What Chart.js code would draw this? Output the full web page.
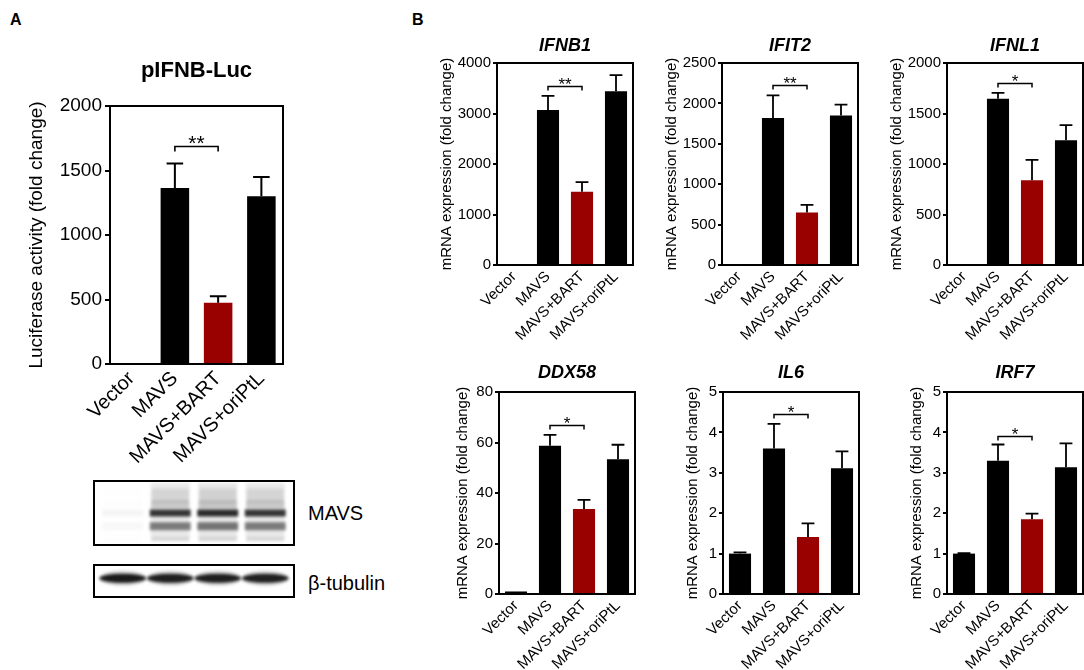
<!DOCTYPE html>
<html><head><meta charset="utf-8">
<script src="https://cdn.jsdelivr.net/npm/chart.js@4.4.1/dist/chart.umd.min.js"></script>
<style>
html,body{margin:0;padding:0;background:#fff;width:1084px;height:670px;overflow:hidden;}
body{position:relative;font-family:"Liberation Sans",Arial,Helvetica,sans-serif;color:#000;}
.plabel{position:absolute;font-weight:bold;font-size:16px;line-height:16px;}
.blotlbl{position:absolute;font-size:20px;line-height:20px;}
</style></head><body>
<div class="plabel" style="left:10px;top:12px;">A</div>
<div class="plabel" style="left:412px;top:12px;">B</div>
<div class="blotlbl" style="left:308px;top:503px;">MAVS</div>
<div class="blotlbl" style="left:308px;top:573px;">β-tubulin</div>
<script>
// ---------------- DATA ----------------
const categories = ["Vector", "MAVS", "MAVS+BART", "MAVS+oriPtL"];

const lucMean   = [1, 1365, 475, 1300];
const lucSem    = [0, 190, 50, 150];

const ifnb1Mean = [1, 3070, 1450, 3440];
const ifnb1Sem  = [0, 280, 190, 320];

const ifit2Mean = [1, 1820, 650, 1850];
const ifit2Sem  = [0, 280, 95, 135];

const ifnl1Mean = [1, 1645, 840, 1235];
const ifnl1Sem  = [0, 60, 200, 150];

const ddx58Mean = [1, 58.7, 33.7, 53.4];
const ddx58Sem  = [0, 4.3, 3.6, 5.7];

const il6Mean   = [1.0, 3.6, 1.41, 3.11];
const il6Sem    = [0.03, 0.61, 0.34, 0.42];

const irf7Mean  = [1.0, 3.30, 1.85, 3.14];
const irf7Sem   = [0.01, 0.40, 0.14, 0.59];

// significance brackets (MAVS vs MAVS+BART)
const sigLabels  = ["**", "**", "**", "*", "*", "*", "*"];
const sigHeights = [1690, 3550, 2230, 1800, 67, 4.46, 3.9];

// y-axis ranges / tick steps
const yMaxes = [2000, 4000, 2500, 2000, 80, 5, 5];
const ySteps = [500, 1000, 500, 500, 20, 1, 1];

// western blot relative band intensities per lane
const blotMAVS    = [0.05, 0.92, 0.97, 0.92];
const blotTubulin = [1.0, 0.97, 0.97, 0.97];

// ---------------- STYLE ----------------
const FONT = '"Liberation Sans", Arial, Helvetica, sans-serif';
Chart.defaults.font.family = FONT;
Chart.defaults.color = '#000';
const barColors = ['#000000', '#000000', '#990000', '#000000'];

function addCanvas(left, top, w, h) {
  const c = document.createElement('canvas');
  c.width = w; c.height = h;
  c.style.cssText = `position:absolute;left:${left}px;top:${top}px;width:${w}px;height:${h}px;`;
  document.body.appendChild(c);
  return c;
}

const errorBarPlugin = {
  id: 'errbars',
  afterDatasetsDraw(chart, args, opts) {
    if (!opts.sem) return;
    const ctx = chart.ctx, meta = chart.getDatasetMeta(0), y = chart.scales.y;
    const vals = chart.data.datasets[0].data;
    ctx.save();
    ctx.strokeStyle = '#000'; ctx.lineWidth = opts.lineWidth; ctx.lineCap = 'butt';
    meta.data.forEach((bar, i) => {
      const e = opts.sem[i];
      if (!e) return;
      const base = y.getPixelForValue(vals[i]);
      const top = y.getPixelForValue(vals[i] + e);
      const half = bar.width * opts.capRatio;
      ctx.beginPath();
      ctx.moveTo(bar.x, base); ctx.lineTo(bar.x, top);
      ctx.moveTo(bar.x - half, top); ctx.lineTo(bar.x + half, top);
      ctx.stroke();
    });
    ctx.restore();
  }
};

const sigPlugin = {
  id: 'sig',
  afterDatasetsDraw(chart, args, opts) {
    if (!opts.label) return;
    const ctx = chart.ctx, meta = chart.getDatasetMeta(0), y = chart.scales.y;
    const x1 = meta.data[opts.from].x, x2 = meta.data[opts.to].x;
    const yy = Math.round(y.getPixelForValue(opts.value)) + 0.5;
    ctx.save();
    ctx.strokeStyle = '#000'; ctx.lineWidth = opts.lineWidth;
    ctx.beginPath();
    ctx.moveTo(x1, yy + opts.tick); ctx.lineTo(x1, yy); ctx.lineTo(x2, yy); ctx.lineTo(x2, yy + opts.tick);
    ctx.stroke();
    ctx.fillStyle = '#000';
    ctx.font = `${opts.fontSize}px ${FONT}`;
    ctx.textAlign = 'center'; ctx.textBaseline = 'alphabetic';
    ctx.fillText(opts.label, (x1 + x2) / 2, yy + opts.dy);
    ctx.restore();
  }
};

const framePlugin = {
  id: 'frame',
  afterDraw(chart, args, opts) {
    if (!opts.lineWidth) return;
    const ctx = chart.ctx, a = chart.chartArea;
    ctx.save();
    ctx.strokeStyle = '#000'; ctx.lineWidth = opts.lineWidth;
    ctx.beginPath();
    ctx.moveTo(a.left - opts.lineWidth / 2, a.top);
    ctx.lineTo(a.right, a.top);
    ctx.lineTo(a.right, a.bottom);
    ctx.stroke();
    ctx.restore();
  }
};

function makeBarChart(s) {
  const c = addCanvas(s.left, s.top, s.w, s.h);
  return new Chart(c, {
    type: 'bar',
    data: {
      labels: categories,
      datasets: [{
        data: s.mean,
        backgroundColor: barColors,
        borderWidth: 0,
        barPercentage: s.barPct,
        categoryPercentage: 1
      }]
    },
    options: {
      responsive: false,
      animation: false,
      events: [],
      layout: { padding: { top: 0, left: 0, right: s.padRight, bottom: 0 } },
      plugins: {
        legend: { display: false },
        tooltip: { enabled: false },
        title: {
          display: true, text: s.title, fullSize: false, color: '#000',
          font: { family: FONT, size: s.titleSize, weight: 'bold', style: s.italic ? 'italic' : 'normal' },
          padding: { top: s.tTop, bottom: s.tBot }
        },
        errbars: { sem: s.sem, lineWidth: s.ebLw, capRatio: 0.29 },
        sig: { from: 1, to: 2, value: s.sigValue, label: s.sigLabel, tick: s.sigTick, lineWidth: s.sigLw, fontSize: s.sigFont, dy: s.sigDy },
        frame: { lineWidth: s.lw }
      },
      scales: {
        x: {
          grid: { display: false, drawTicks: false },
          border: { display: true, color: '#000', width: s.lw },
          ticks: { color: '#000', font: { family: FONT, size: s.xFont }, minRotation: 45, maxRotation: 45, autoSkip: false, padding: 3 },
          afterFit: (sc) => { sc.height = s.xH; }
        },
        y: {
          min: 0, max: s.ymax,
          ticks: { stepSize: s.step, color: '#000', font: { family: FONT, size: s.yFont }, padding: s.tickPad, callback: (v) => String(v) },
          grid: { drawOnChartArea: false, drawTicks: true, tickLength: s.tickLen, color: '#000', lineWidth: s.lw },
          border: { display: true, color: '#000', width: s.lw },
          title: { display: true, text: s.ytitle, color: '#000', font: { family: FONT, size: s.ytFont }, padding: { top: s.ytPad, bottom: 0 } },
          afterFit: (sc) => { sc.width = s.yW; }
        }
      }
    },
    plugins: [errorBarPlugin, sigPlugin, framePlugin]
  });
}

// ---------- Panel A ----------
makeBarChart({
  left: 0, top: 45, w: 303, h: 429, padRight: 20, yW: 110, xH: 110,
  mean: lucMean, sem: lucSem, ymax: yMaxes[0], step: ySteps[0],
  title: 'pIFNB-Luc', titleSize: 22, italic: false, tTop: 12.8, tBot: 21.8,
  ytitle: 'Luciferase activity (fold change)', ytFont: 19, ytPad: 25.6,
  yFont: 19, xFont: 20, tickLen: 5, tickPad: 3, lw: 2, ebLw: 2, barPct: 0.66,
  sigValue: sigHeights[0], sigLabel: sigLabels[0], sigTick: 5, sigLw: 1.6, sigFont: 21, sigDy: 3
});

// ---------- Panel B ----------
const bTitles = ['IFNB1', 'IFIT2', 'IFNL1', 'DDX58', 'IL6', 'IRF7'];
const bMeans = [ifnb1Mean, ifit2Mean, ifnl1Mean, ddx58Mean, il6Mean, irf7Mean];
const bSems = [ifnb1Sem, ifit2Sem, ifnl1Sem, ddx58Sem, il6Sem, irf7Sem];
const bPlotLeft = [497, 722, 947, 499, 723, 947];
const bYtPad = [31, 31, 31, 45, 51, 51];
for (let k = 0; k < 6; k++) {
  const top = k < 3;
  const yW = 90;
  makeBarChart({
    left: bPlotLeft[k] - yW, top: top ? 20 : 350, w: yW + 136 + 8, h: top ? 325 : 320,
    padRight: 8, yW: yW, xH: top ? 80 : 76,
    mean: bMeans[k], sem: bSems[k], ymax: yMaxes[k + 1], step: ySteps[k + 1],
    title: bTitles[k], titleSize: 18, italic: true,
    tTop: top ? 14.9 : 12.5, tBot: top ? 6.5 : 7.9,
    ytitle: 'mRNA expression (fold change)', ytFont: 15, ytPad: bYtPad[k],
    yFont: 15, xFont: 15, tickLen: 4, tickPad: 2, lw: 2, ebLw: 1.8, barPct: 0.65,
    sigValue: sigHeights[k + 1], sigLabel: sigLabels[k + 1], sigTick: 4, sigLw: 1.5, sigFont: 17, sigDy: 3
  });
}

// ---------- Western blot ----------
const blotPlugin = {
  id: 'blot',
  afterDatasetsDraw(chart, args, opts) {
    const ctx = chart.ctx, meta = chart.getDatasetMeta(0), a = chart.chartArea;
    const vals = chart.data.datasets[0].data;
    ctx.save();
    ctx.filter = `blur(${opts.blur}px)`;
    meta.data.forEach((bar, i) => {
      const I = vals[i];
      opts.bands.forEach(b => {
        const cy = a.top + b.pos * (a.bottom - a.top);
        const w = bar.width * b.w;
        ctx.fillStyle = `rgba(15,15,15,${(b.a * I).toFixed(3)})`;
        ctx.beginPath();
        if (b.shape === 'ellipse') ctx.ellipse(bar.x, cy, w / 2, b.h / 2, 0, 0, Math.PI * 2);
        else ctx.rect(bar.x - w / 2, cy - b.h / 2, w, b.h);
        ctx.fill();
      });
    });
    ctx.restore();
    // frame around the membrane
    ctx.save();
    ctx.strokeStyle = '#000'; ctx.lineWidth = 2;
    ctx.strokeRect(1, 1, chart.width - 2, chart.height - 2);
    ctx.restore();
  }
};

function makeBlot(left, top, w, h, values, bands) {
  const c = addCanvas(left, top, w, h);
  return new Chart(c, {
    type: 'bar',
    data: { labels: categories, datasets: [{ data: values, backgroundColor: 'rgba(0,0,0,0)', borderWidth: 0, barPercentage: 1, categoryPercentage: 1 }] },
    options: {
      responsive: false, animation: false, events: [],
      layout: { padding: { left: 6, right: 6, top: 0, bottom: 0 } },
      plugins: { legend: { display: false }, tooltip: { enabled: false }, blot: { bands: bands, blur: 1.8 } },
      scales: { x: { display: false }, y: { display: false, min: 0, max: 1 } }
    },
    plugins: [blotPlugin]
  });
}

makeBlot(93, 480, 202, 66, blotMAVS, [
  { pos: 0.47, h: 56, a: 0.10, w: 0.82, shape: 'rect' },
  { pos: 0.24, h: 14, a: 0.10, w: 0.78, shape: 'rect' },
  { pos: 0.37, h: 8, a: 0.16, w: 0.8, shape: 'rect' },
  { pos: 0.5, h: 7, a: 0.9, w: 0.86, shape: 'rect' },
  { pos: 0.7, h: 8, a: 0.55, w: 0.86, shape: 'rect' },
  { pos: 0.9, h: 4, a: 0.15, w: 0.8, shape: 'rect' }
]);
makeBlot(93, 564, 202, 34, blotTubulin, [
  { pos: 0.42, h: 15, a: 0.18, w: 1.0, shape: 'ellipse' },
  { pos: 0.42, h: 9, a: 0.95, w: 0.97, shape: 'ellipse' }
]);
</script>
</body></html>
